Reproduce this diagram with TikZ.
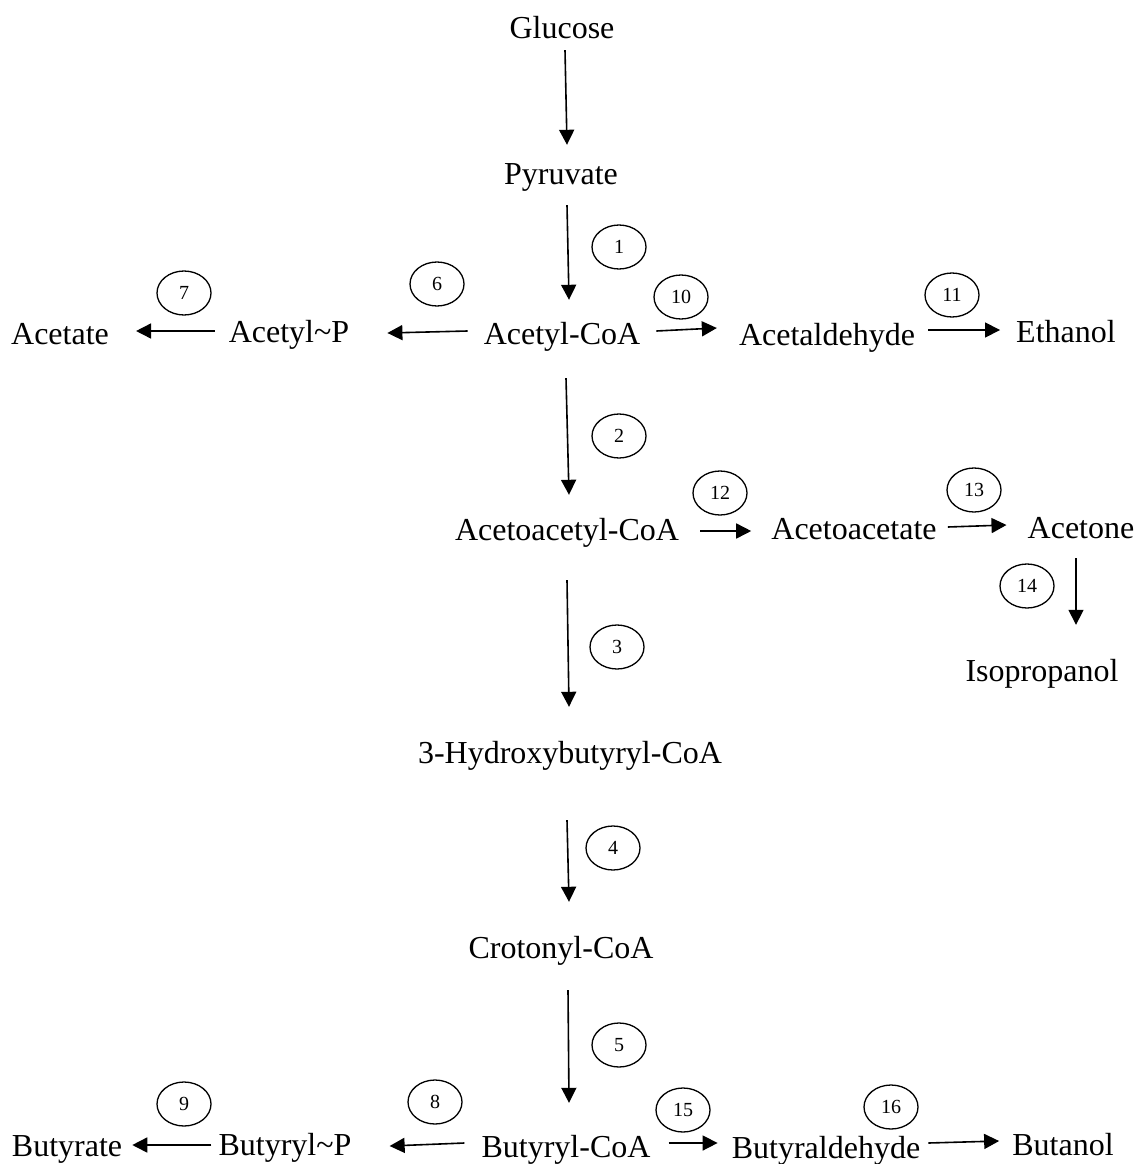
\documentclass[tikz,border=0pt]{standalone}
\usepackage{fontspec}
\setmainfont{Liberation Serif}
\usetikzlibrary{arrows.meta,shapes.geometric}
\begin{document}
\begin{tikzpicture}[x=1pt,y=-1pt,
  lbl/.style={inner sep=0pt, anchor=base, font=\fontsize{32}{38}\selectfont, text height=22pt, text depth=7pt},
  num/.style={draw, ellipse, line width=1.3pt, minimum width=54pt, minimum height=44pt, inner sep=0pt, font=\fontsize{20}{22}\selectfont},
  arr/.style={line width=1.6pt, -{Triangle[length=15pt,width=15pt]}}]
\useasboundingbox (0,0) rectangle (1135,1164);
\fill[white] (0,0) rectangle (1135,1164);
% metabolites
\node[lbl] (glu) at (562,38) {Glucose};
\node[lbl] (pyr) at (561,184) {Pyruvate};
\node[lbl] (acoa) at (562,344) {Acetyl-CoA};
\node[lbl] (acp) at (289,342) {Acetyl\textasciitilde P};
\node[lbl] (acet) at (60,344) {Acetate};
\node[lbl] (acald) at (827,345) {Acetaldehyde};
\node[lbl] (etoh) at (1066,342) {Ethanol};
\node[lbl] (aacoa) at (567,540) {Acetoacetyl-CoA};
\node[lbl] (aac) at (854,539) {Acetoacetate};
\node[lbl] (acone) at (1081,538) {Acetone};
\node[lbl] (isop) at (1042,681) {Isopropanol};
\node[lbl] (hb) at (570,763) {3-Hydroxybutyryl-CoA};
\node[lbl] (cro) at (561,958) {Crotonyl-CoA};
\node[lbl] (bcoa) at (566,1157) {Butyryl-CoA};
\node[lbl] (bp) at (285,1155) {Butyryl\textasciitilde P};
\node[lbl] (buta) at (67,1156) {Butyrate};
\node[lbl] (bald) at (826,1158) {Butyraldehyde};
\node[lbl] (buoh) at (1063,1155) {Butanol};
% enzyme numbers
\node[num] (c1) at (619,247) {1};
\node[num] (c2) at (619,436) {2};
\node[num] (c3) at (617,647) {3};
\node[num] (c4) at (613,848) {4};
\node[num] (c5) at (619,1045) {5};
\node[num] (c6) at (437,284) {6};
\node[num] (c7) at (184,293) {7};
\node[num] (c8) at (435,1102) {8};
\node[num] (c9) at (184,1104) {9};
\node[num] (c10) at (681,297) {10};
\node[num] (c11) at (952,295) {11};
\node[num] (c12) at (720,493) {12};
\node[num] (c13) at (974,490) {13};
\node[num] (c14) at (1027,586) {14};
\node[num] (c15) at (683,1110) {15};
\node[num] (c16) at (891,1107) {16};
% vertical arrows
\draw[arr] ([shift={(3,5)}]glu.south) -- ([shift={(6,-17)}]pyr.north);
\draw[arr] ([shift={(6,14)}]pyr.south) -- ([shift={(7,-22)}]acoa.north);
\draw[arr] ([shift={(4,27)}]acoa.south) -- ([shift={(2,-23)}]aacoa.north);
\draw[arr] ([shift={(0,33)}]aacoa.south) -- ([shift={(-1,-34)}]hb.north);
\draw[arr] ([shift={(-3,50)}]hb.south) -- ([shift={(8,-34)}]cro.north);
\draw[arr] ([shift={(7,25)}]cro.south) -- ([shift={(3,-32)}]bcoa.north);
\draw[arr] ([shift={(-5,13)}]acone.south) -- ([shift={(34,-34)}]isop.north);
% horizontal arrows
\draw[arr] ([shift={(-16,-13)}]acoa.base west) -- ([shift={(38,-9)}]acp.base east);
\draw[arr] ([shift={(-14,-11)}]acp.base west) -- ([shift={(27,-13)}]acet.base east);
\draw[arr] ([shift={(16,-13)}]acoa.base east) -- ([shift={(-22,-17)}]acald.base west);
\draw[arr] ([shift={(13,-15)}]acald.base east) -- ([shift={(-16,-12)}]etoh.base west);
\draw[arr] ([shift={(21,-9)}]aacoa.base east) -- ([shift={(-20,-8)}]aac.base west);
\draw[arr] ([shift={(11,-12)}]aac.base east) -- ([shift={(-21,-13)}]acone.base west);
\draw[arr] ([shift={(-17,-14)}]bcoa.base west) -- ([shift={(38,-9)}]bp.base east);
\draw[arr] ([shift={(-7,-10)}]bp.base west) -- ([shift={(10,-11)}]buta.base east);
\draw[arr] ([shift={(18,-14)}]bcoa.base east) -- ([shift={(-14,-15)}]bald.base west);
\draw[arr] ([shift={(8,-15)}]bald.base east) -- ([shift={(-13,-14)}]buoh.base west);
\end{tikzpicture}
\end{document}
